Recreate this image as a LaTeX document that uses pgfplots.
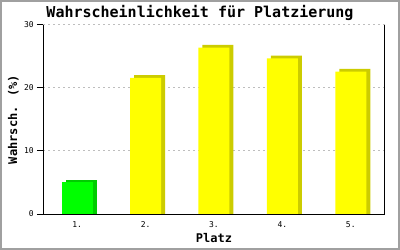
\documentclass[border=0pt]{standalone}
\usepackage{pgfplots}
\usepackage{pgfplotstable}
\pgfplotsset{compat=1.18}
\usepackage{fontspec}
\setmainfont{DejaVu Sans Mono}
\definecolor{yfront}{RGB}{255,255,0}
\definecolor{yside}{RGB}{204,204,0}
\definecolor{gfront}{RGB}{0,255,0}
\definecolor{gside}{RGB}{0,204,0}
\definecolor{framegray}{RGB}{160,160,160}
\definecolor{gridgray}{RGB}{190,190,190}
\pgfplotstableread{
x v
1 5.0
}\first
\pgfplotstableread{
x v
2 21.6
3 26.4
4 24.7
5 22.6
}\rest
\begin{document}
\begin{tikzpicture}
\fill[white] (0,0) rectangle (400bp,250bp);
\begin{axis}[
  at={(43bp,36bp)}, anchor=south west,
  scale only axis, width=342bp, height=189bp,
  xmin=0.5, xmax=5.5, ymin=0, ymax=30,
  axis x line=bottom, axis y line=left,
  axis line style={-, line width=1bp, black},
  xtick={1,2,3,4,5}, xticklabels={1.,2.,3.,4.,5.},
  ytick={0,10,20,30},
  ymajorgrids,
  major grid style={gridgray, dash pattern=on 2bp off 3bp, line width=1bp},
  tick align=outside, major tick length=6bp,
  xtick style={draw=none}, ytick style={black, line width=1bp},
  /pgf/number format/assume math mode=true,
  ticklabel style={font=\fontsize{8bp}{9bp}\selectfont},
  yticklabel style={anchor=east, inner sep=0pt, xshift=-3bp},
  xticklabel style={anchor=north, inner sep=0pt, yshift=-1bp},
  xlabel={Platz}, ylabel={Wahrsch. (\%)},
  label style={font=\bfseries\fontsize{12bp}{14bp}\selectfont},
  xlabel style={at={(axis description cs:0.5,-0.1534)}, anchor=base},
  ylabel style={at={(axis description cs:-0.076,0.5)}, anchor=base},
  clip=false,
]
\addplot[ybar, bar width=31bp, bar shift=4bp, fill=gside, draw=none] table[x=x, y expr=\thisrow{v}+0.45] {\first};
\addplot[ybar, bar width=31bp, bar shift=4bp, fill=yside, draw=none] table[x=x, y expr=\thisrow{v}+0.45] {\rest};
\addplot[ybar, bar width=31bp, bar shift=0bp, fill=gfront, draw=none] table[x=x, y=v] {\first};
\addplot[ybar, bar width=31bp, bar shift=0bp, fill=yfront, draw=none] table[x=x, y=v] {\rest};
\draw[black, line width=1bp] (rel axis cs:1,0) -- (rel axis cs:1,1);
\draw[black, line width=1bp] (rel axis cs:0,0) -- (rel axis cs:1,0);
\end{axis}
\node[anchor=base, font=\bfseries\fontsize{15bp}{17bp}\selectfont] at (200bp,232bp) {Wahrscheinlichkeit für Platzierung};
\draw[framegray, line width=2bp] (1bp,1bp) rectangle (399bp,249bp);
\end{tikzpicture}
\end{document}
